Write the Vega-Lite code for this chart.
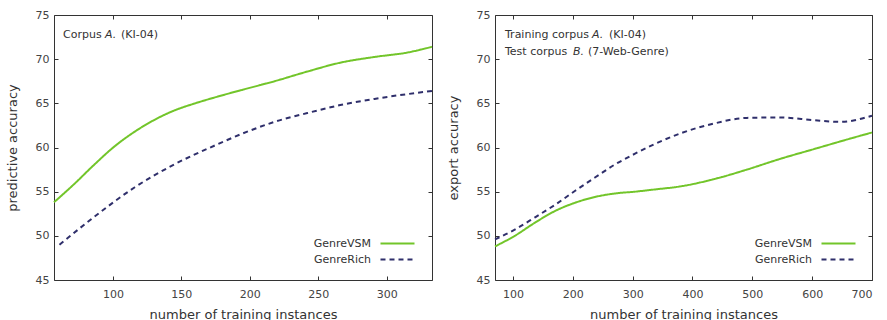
{
  "$schema": "https://vega.github.io/schema/vega-lite/v6.json",
  "padding": {"left": 5, "top": 8, "right": 5, "bottom": 0},
  "background": "white",
  "config": {
    "font": "DejaVu Sans",
    "view": {"stroke": "#333333", "strokeWidth": 1},
    "axis": {
      "domain": false,
      "grid": false,
      "tickSize": -4,
      "tickColor": "#333333",
      "labelFontSize": 11,
      "labelColor": "#444444",
      "labelPadding": 9,
      "titleFontSize": 13,
      "titleFontWeight": "normal",
      "titleColor": "#333333",
      "titlePadding": 16
    },
    "axisX": {"labelPadding": 12, "titlePadding": 9},
    "legend": {
      "orient": "none",
      "title": null,
      "labelFontSize": 11,
      "labelColor": "#333333",
      "symbolType": "M-1.8,0H1.8",
      "symbolSize": 357,
      "symbolStrokeWidth": 2,
      "labelAlign": "right",
      "labelOffset": -37,
      "rowPadding": 0
    }
  },
  "datasets": {
    "corpusA": [
      {"instances": 57, "accuracy": 53.8, "series": "GenreVSM"},
      {"instances": 72, "accuracy": 55.9, "series": "GenreVSM"},
      {"instances": 86, "accuracy": 58.0, "series": "GenreVSM"},
      {"instances": 101, "accuracy": 60.1, "series": "GenreVSM"},
      {"instances": 116, "accuracy": 61.8, "series": "GenreVSM"},
      {"instances": 130, "accuracy": 63.1, "series": "GenreVSM"},
      {"instances": 145, "accuracy": 64.2, "series": "GenreVSM"},
      {"instances": 159, "accuracy": 64.95, "series": "GenreVSM"},
      {"instances": 174, "accuracy": 65.65, "series": "GenreVSM"},
      {"instances": 195, "accuracy": 66.55, "series": "GenreVSM"},
      {"instances": 218, "accuracy": 67.5, "series": "GenreVSM"},
      {"instances": 242, "accuracy": 68.6, "series": "GenreVSM"},
      {"instances": 266, "accuracy": 69.6, "series": "GenreVSM"},
      {"instances": 291, "accuracy": 70.25, "series": "GenreVSM"},
      {"instances": 315, "accuracy": 70.75, "series": "GenreVSM"},
      {"instances": 333, "accuracy": 71.4, "series": "GenreVSM"},
      {"instances": 61, "accuracy": 49.0, "series": "GenreRich"},
      {"instances": 86, "accuracy": 52.1, "series": "GenreRich"},
      {"instances": 116, "accuracy": 55.5, "series": "GenreRich"},
      {"instances": 145, "accuracy": 58.1, "series": "GenreRich"},
      {"instances": 174, "accuracy": 60.2, "series": "GenreRich"},
      {"instances": 195, "accuracy": 61.6, "series": "GenreRich"},
      {"instances": 218, "accuracy": 62.9, "series": "GenreRich"},
      {"instances": 242, "accuracy": 63.9, "series": "GenreRich"},
      {"instances": 266, "accuracy": 64.8, "series": "GenreRich"},
      {"instances": 291, "accuracy": 65.5, "series": "GenreRich"},
      {"instances": 333, "accuracy": 66.4, "series": "GenreRich"}
    ],
    "corpusB": [
      {"instances": 70, "accuracy": 48.8, "series": "GenreVSM"},
      {"instances": 103, "accuracy": 50.0, "series": "GenreVSM"},
      {"instances": 137, "accuracy": 51.5, "series": "GenreVSM"},
      {"instances": 170, "accuracy": 52.8, "series": "GenreVSM"},
      {"instances": 204, "accuracy": 53.75, "series": "GenreVSM"},
      {"instances": 237, "accuracy": 54.4, "series": "GenreVSM"},
      {"instances": 271, "accuracy": 54.8, "series": "GenreVSM"},
      {"instances": 304, "accuracy": 55.0, "series": "GenreVSM"},
      {"instances": 337, "accuracy": 55.25, "series": "GenreVSM"},
      {"instances": 380, "accuracy": 55.6, "series": "GenreVSM"},
      {"instances": 435, "accuracy": 56.4, "series": "GenreVSM"},
      {"instances": 491, "accuracy": 57.5, "series": "GenreVSM"},
      {"instances": 546, "accuracy": 58.7, "series": "GenreVSM"},
      {"instances": 602, "accuracy": 59.8, "series": "GenreVSM"},
      {"instances": 658, "accuracy": 60.9, "series": "GenreVSM"},
      {"instances": 700, "accuracy": 61.7, "series": "GenreVSM"},
      {"instances": 70, "accuracy": 49.6, "series": "GenreRich"},
      {"instances": 103, "accuracy": 50.7, "series": "GenreRich"},
      {"instances": 137, "accuracy": 52.1, "series": "GenreRich"},
      {"instances": 170, "accuracy": 53.5, "series": "GenreRich"},
      {"instances": 204, "accuracy": 55.1, "series": "GenreRich"},
      {"instances": 237, "accuracy": 56.6, "series": "GenreRich"},
      {"instances": 271, "accuracy": 58.1, "series": "GenreRich"},
      {"instances": 304, "accuracy": 59.3, "series": "GenreRich"},
      {"instances": 337, "accuracy": 60.4, "series": "GenreRich"},
      {"instances": 380, "accuracy": 61.6, "series": "GenreRich"},
      {"instances": 435, "accuracy": 62.7, "series": "GenreRich"},
      {"instances": 491, "accuracy": 63.35, "series": "GenreRich"},
      {"instances": 546, "accuracy": 63.4, "series": "GenreRich"},
      {"instances": 602, "accuracy": 63.1, "series": "GenreRich"},
      {"instances": 647, "accuracy": 62.9, "series": "GenreRich"},
      {"instances": 700, "accuracy": 63.6, "series": "GenreRich"}
    ],
    "noteA": [
      {"part": "Corpus", "row": 1},
      {"part": "A.", "row": 1},
      {"part": "(KI-04)", "row": 1}
    ],
    "noteB": [
      {"part": "Training corpus", "row": 1},
      {"part": "A.", "row": 1},
      {"part": "(KI-04)", "row": 1},
      {"part": "Test corpus", "row": 2},
      {"part": "B.", "row": 2},
      {"part": "(7-Web-Genre)", "row": 2}
    ]
  },
  "spacing": 9,
  "resolve": {"legend": {"color": "independent", "strokeDash": "independent"}},
  "hconcat": [
    {
      "width": 378,
      "height": 265,
      "layer": [
        {
          "data": {"name": "corpusA"},
          "mark": {"type": "line", "interpolate": "monotone", "strokeWidth": 2},
          "encoding": {
            "x": {"field": "instances", "type": "quantitative",
                  "scale": {"domain": [57, 333], "nice": false, "zero": false},
                  "axis": {"values": [100, 150, 200, 250, 300], "title": "number of training instances"}},
            "y": {"field": "accuracy", "type": "quantitative",
                  "scale": {"domain": [45, 75], "nice": false, "zero": false},
                  "axis": {"values": [45, 50, 55, 60, 65, 70, 75], "title": "predictive accuracy"}},
            "color": {"field": "series", "type": "nominal",
                      "scale": {"domain": ["GenreVSM", "GenreRich"], "range": ["#72c52a", "#2f2f6b"]},
                      "legend": {"legendX": 333, "legendY": 218}},
            "strokeDash": {"field": "series", "type": "nominal",
                           "scale": {"domain": ["GenreVSM", "GenreRich"], "range": [[1, 0], [5, 4]]},
                           "legend": {"legendX": 333, "legendY": 218}}
          }
        },
        {
          "data": {"name": "noteA"},
          "transform": [{"filter": "datum.part === 'Corpus'"}],
          "mark": {"type": "text", "align": "left", "baseline": "middle", "fontSize": 11, "color": "#333333", "dx": 9, "dy": 20},
          "encoding": {
            "x": {"datum": 57, "type": "quantitative",
                  "axis": {"orient": "top", "values": [100, 150, 200, 250, 300], "labels": false, "title": null, "labelPadding": 0}},
            "y": {"datum": 75, "type": "quantitative",
                  "axis": {"orient": "right", "values": [45, 50, 55, 60, 65, 70, 75], "labels": false, "title": null, "labelPadding": 0}},
            "text": {"field": "part"}
          }
        },
        {
          "data": {"name": "noteA"},
          "transform": [{"filter": "datum.part === 'A.'"}],
          "mark": {"type": "text", "align": "left", "baseline": "middle", "fontSize": 11, "fontStyle": "italic", "color": "#333333", "dx": 51, "dy": 20},
          "encoding": {
            "x": {"datum": 57, "type": "quantitative", "axis": null},
            "y": {"datum": 75, "type": "quantitative", "axis": null},
            "text": {"field": "part"}
          }
        },
        {
          "data": {"name": "noteA"},
          "transform": [{"filter": "datum.part === '(KI-04)'"}],
          "mark": {"type": "text", "align": "left", "baseline": "middle", "fontSize": 11, "color": "#333333", "dx": 67, "dy": 20},
          "encoding": {
            "x": {"datum": 57, "type": "quantitative", "axis": null},
            "y": {"datum": 75, "type": "quantitative", "axis": null},
            "text": {"field": "part"}
          }
        }
      ],
      "resolve": {"axis": {"x": "independent", "y": "independent"}}
    },
    {
      "width": 377,
      "height": 265,
      "layer": [
        {
          "data": {"name": "corpusB"},
          "mark": {"type": "line", "interpolate": "monotone", "strokeWidth": 2},
          "encoding": {
            "x": {"field": "instances", "type": "quantitative",
                  "scale": {"domain": [70, 700], "nice": false, "zero": false},
                  "axis": {"values": [100, 200, 300, 400, 500, 600, 700], "title": "number of training instances"}},
            "y": {"field": "accuracy", "type": "quantitative",
                  "scale": {"domain": [45, 75], "nice": false, "zero": false},
                  "axis": {"values": [45, 50, 55, 60, 65, 70, 75], "title": "export accuracy"}},
            "color": {"field": "series", "type": "nominal",
                      "scale": {"domain": ["GenreVSM", "GenreRich"], "range": ["#72c52a", "#2f2f6b"]},
                      "legend": {"legendX": 333, "legendY": 218}},
            "strokeDash": {"field": "series", "type": "nominal",
                           "scale": {"domain": ["GenreVSM", "GenreRich"], "range": [[1, 0], [5, 4]]},
                           "legend": {"legendX": 333, "legendY": 218}}
          }
        },
        {
          "data": {"name": "noteB"},
          "transform": [{"filter": "datum.part === 'Training corpus'"}],
          "mark": {"type": "text", "align": "left", "baseline": "middle", "fontSize": 11, "color": "#333333", "dx": 10, "dy": 20},
          "encoding": {
            "x": {"datum": 70, "type": "quantitative",
                  "axis": {"orient": "top", "values": [100, 200, 300, 400, 500, 600, 700], "labels": false, "title": null, "labelPadding": 0}},
            "y": {"datum": 75, "type": "quantitative",
                  "axis": {"orient": "right", "values": [45, 50, 55, 60, 65, 70, 75], "labels": false, "title": null, "labelPadding": 0}},
            "text": {"field": "part"}
          }
        },
        {
          "data": {"name": "noteB"},
          "transform": [{"filter": "datum.part === 'A.'"}],
          "mark": {"type": "text", "align": "left", "baseline": "middle", "fontSize": 11, "fontStyle": "italic", "color": "#333333", "dx": 97, "dy": 20},
          "encoding": {
            "x": {"datum": 70, "type": "quantitative", "axis": null},
            "y": {"datum": 75, "type": "quantitative", "axis": null},
            "text": {"field": "part"}
          }
        },
        {
          "data": {"name": "noteB"},
          "transform": [{"filter": "datum.part === '(KI-04)'"}],
          "mark": {"type": "text", "align": "left", "baseline": "middle", "fontSize": 11, "color": "#333333", "dx": 114, "dy": 20},
          "encoding": {
            "x": {"datum": 70, "type": "quantitative", "axis": null},
            "y": {"datum": 75, "type": "quantitative", "axis": null},
            "text": {"field": "part"}
          }
        },
        {
          "data": {"name": "noteB"},
          "transform": [{"filter": "datum.part === 'Test corpus'"}],
          "mark": {"type": "text", "align": "left", "baseline": "middle", "fontSize": 11, "color": "#333333", "dx": 10, "dy": 37},
          "encoding": {
            "x": {"datum": 70, "type": "quantitative", "axis": null},
            "y": {"datum": 75, "type": "quantitative", "axis": null},
            "text": {"field": "part"}
          }
        },
        {
          "data": {"name": "noteB"},
          "transform": [{"filter": "datum.part === 'B.'"}],
          "mark": {"type": "text", "align": "left", "baseline": "middle", "fontSize": 11, "fontStyle": "italic", "color": "#333333", "dx": 78, "dy": 37},
          "encoding": {
            "x": {"datum": 70, "type": "quantitative", "axis": null},
            "y": {"datum": 75, "type": "quantitative", "axis": null},
            "text": {"field": "part"}
          }
        },
        {
          "data": {"name": "noteB"},
          "transform": [{"filter": "datum.part === '(7-Web-Genre)'"}],
          "mark": {"type": "text", "align": "left", "baseline": "middle", "fontSize": 11, "color": "#333333", "dx": 93, "dy": 37},
          "encoding": {
            "x": {"datum": 70, "type": "quantitative", "axis": null},
            "y": {"datum": 75, "type": "quantitative", "axis": null},
            "text": {"field": "part"}
          }
        }
      ],
      "resolve": {"axis": {"x": "independent", "y": "independent"}}
    }
  ]
}
